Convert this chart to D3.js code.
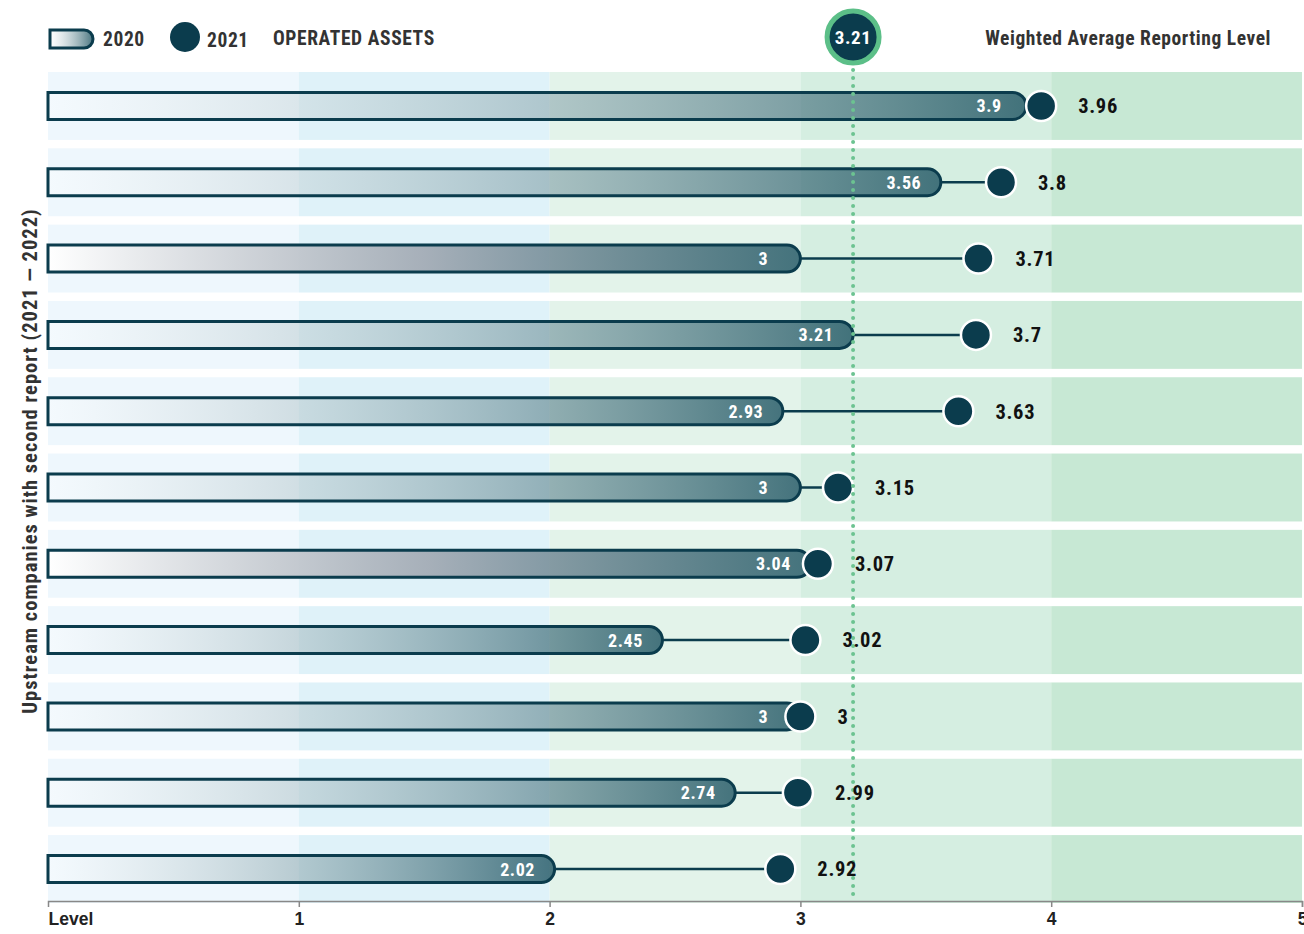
<!DOCTYPE html>
<html>
<head>
<meta charset="utf-8">
<script src="https://cdn.jsdelivr.net/npm/d3@7"></script>
<style>
  body { margin: 0; background: #fff; }
  svg { display: block; font-family: "Roboto Condensed", "Liberation Sans Narrow", "DejaVu Sans Condensed", Roboto, sans-serif; }
</style>
</head>
<body>
<svg id="chart" width="1304" height="934"></svg>
<script>
var rows = ["c1", "c2", "c3", "c4", "c5", "c6", "c7", "c8", "c9", "c10", "c11"];
var values2020 = [3.9, 3.56, 3, 3.21, 2.93, 3, 3.04, 2.45, 3, 2.74, 2.02];
var values2021 = [3.96, 3.8, 3.71, 3.7, 3.63, 3.15, 3.07, 3.02, 3, 2.99, 2.92];
var average = 3.21;
var levels = [0, 1, 2, 3, 4, 5];
var tickLabels = ["Level", "1", "2", "3", "4", "5"];
var bandColors = ["#eef7fd", "#dff2f9", "#e3f3ea", "#d5eee1", "#c7e8d4"];

var dark = "#0b3c4d";
var svg = d3.select("#chart");

var x = d3.scaleLinear().domain([0, 5]).range([48, 1302]);
var y = d3.scaleBand().domain(rows).range([72, 903]).paddingInner(0.11);

// gradients
var defs = svg.append("defs");
var gA = defs.append("linearGradient").attr("id", "gradA");
gA.append("stop").attr("offset", "0%").attr("stop-color", "#ffffff").attr("stop-opacity", 0.35);
gA.append("stop").attr("offset", "100%").attr("stop-color", "#1d5361").attr("stop-opacity", 0.8);
var gB = defs.append("linearGradient").attr("id", "gradB");
gB.append("stop").attr("offset", "0%").attr("stop-color", "#ffffff").attr("stop-opacity", 1);
gB.append("stop").attr("offset", "50%").attr("stop-color", "#a0a8b2").attr("stop-opacity", 0.9);
gB.append("stop").attr("offset", "100%").attr("stop-color", "#1d5361").attr("stop-opacity", 0.8);
var greyRows = [2, 6];

// row backgrounds
rows.forEach(function(r) {
  svg.append("g").selectAll("rect")
    .data(d3.range(5))
    .join("rect")
      .attr("x", function(i) { return x(i); })
      .attr("width", function(i) { return x(i + 1) - x(i); })
      .attr("y", y(r))
      .attr("height", y.bandwidth())
      .attr("fill", function(i) { return bandColors[i]; });
});

// x axis
var axis = svg.append("g")
    .attr("transform", "translate(0," + (y.range()[1] - 2) + ")")
    .call(d3.axisBottom(x).tickValues(levels).tickSize(6).tickFormat(function(d, i) { return tickLabels[i]; }));
axis.select(".domain").attr("stroke", "#888").attr("stroke-width", 1.5);
axis.selectAll(".tick line").attr("stroke", "#888").attr("stroke-width", 1.5);
axis.selectAll(".tick text")
    .attr("font-size", 17.5).attr("font-weight", "bold").attr("fill", "#222").attr("dy", "0.85em")
    .attr("font-family", null);
axis.selectAll(".tick").filter(function(d) { return d === 0; }).select("text").attr("text-anchor", "start");
axis.selectAll(".tick").filter(function(d) { return d === 0; }).select("line").remove();

var barH = 27;

function barPath(v, cy) {
  var x0 = x(0), x1 = x(v), r = barH / 2;
  return "M" + x0 + "," + (cy - r) + "H" + (x1 - r) +
    "A" + r + "," + r + " 0 0 1 " + (x1 - r) + "," + (cy + r) +
    "H" + x0 + "Z";
}

var g = svg.append("g");
rows.forEach(function(r, i) {
  var cy = y(r) + y.bandwidth() / 2;
  var v0 = values2020[i], v1 = values2021[i];
  g.append("line")
    .attr("x1", x(v0)).attr("x2", x(v1))
    .attr("y1", cy).attr("y2", cy)
    .attr("stroke", dark).attr("stroke-width", 2.5);
  g.append("path")
    .attr("d", barPath(v0, cy))
    .attr("fill", greyRows.indexOf(i) >= 0 ? "url(#gradB)" : "url(#gradA)")
    .attr("stroke", dark).attr("stroke-width", 3);
  g.append("text")
    .attr("x", x(v0) - 37).attr("y", cy).attr("dy", "0.36em")
    .attr("text-anchor", "middle")
    .attr("font-size", 18).attr("font-weight", "bold").attr("fill", "#fff")
    .style("letter-spacing", "0.6px")
    .text(v0);
});

// average line
svg.append("line")
  .attr("x1", x(average)).attr("x2", x(average))
  .attr("y1", 62).attr("y2", y.range()[1] - 2)
  .attr("stroke", "#6cc391").attr("stroke-width", 4)
  .attr("stroke-linecap", "round").attr("stroke-dasharray", "0,8");

rows.forEach(function(r, i) {
  var cy = y(r) + y.bandwidth() / 2;
  var v1 = values2021[i];
  g.append("circle")
    .attr("cx", x(v1)).attr("cy", cy).attr("r", 15)
    .attr("fill", dark).attr("stroke", "#fff").attr("stroke-width", 2.5);
  svg.append("text")
    .attr("x", x(v1) + 37).attr("y", cy).attr("dy", "0.36em")
    .attr("font-size", 20.5).attr("font-weight", "bold").attr("fill", "#111")
    .style("letter-spacing", "0.7px")
    .text(v1);
});

// average badge
svg.append("circle")
  .attr("cx", x(average)).attr("cy", 37).attr("r", 26)
  .attr("fill", dark).attr("stroke", "#5cbf88").attr("stroke-width", 5);
svg.append("text")
  .attr("x", x(average)).attr("y", 37).attr("dy", "0.36em")
  .attr("text-anchor", "middle")
  .attr("font-size", 19).attr("font-weight", "bold").attr("fill", "#fff")
  .style("letter-spacing", "0.6px")
  .text(average);
svg.append("text")
  .attr("x", 1271).attr("y", 38).attr("dy", "0.35em")
  .attr("text-anchor", "end")
  .attr("font-size", 19.5).attr("font-weight", "bold").attr("fill", "#333")
  .style("letter-spacing", "0.55px")
  .text("Weighted Average Reporting Level");

// legend
var lg = svg.append("g").style("letter-spacing", "0.6px");
lg.append("path")
  .attr("d", "M50,30H84A9,9 0 0 1 84,48H50Z")
  .attr("fill", "url(#gradA)").attr("stroke", dark).attr("stroke-width", 3);
lg.append("text").attr("x", 103).attr("y", 39).attr("dy", "0.35em")
  .attr("font-size", 19.5).attr("font-weight", "bold").attr("fill", "#333").text("2020");
lg.append("circle").attr("cx", 185).attr("cy", 37).attr("r", 15).attr("fill", dark);
lg.append("text").attr("x", 207).attr("y", 40).attr("dy", "0.35em")
  .attr("font-size", 19.5).attr("font-weight", "bold").attr("fill", "#333").text("2021");
lg.append("text").attr("x", 273).attr("y", 38).attr("dy", "0.35em")
  .attr("font-size", 19.5).attr("font-weight", "bold").attr("fill", "#333").text("OPERATED ASSETS");

// y label
svg.append("text")
  .attr("transform", "translate(30,461) rotate(-90)")
  .attr("dy", "0.35em")
  .attr("text-anchor", "middle")
  .attr("font-size", 20.5).attr("font-weight", "bold").attr("fill", "#333")
  .style("letter-spacing", "1px")
  .text("Upstream companies with second report (2021 \u2014 2022)");
</script>
</body>
</html>
